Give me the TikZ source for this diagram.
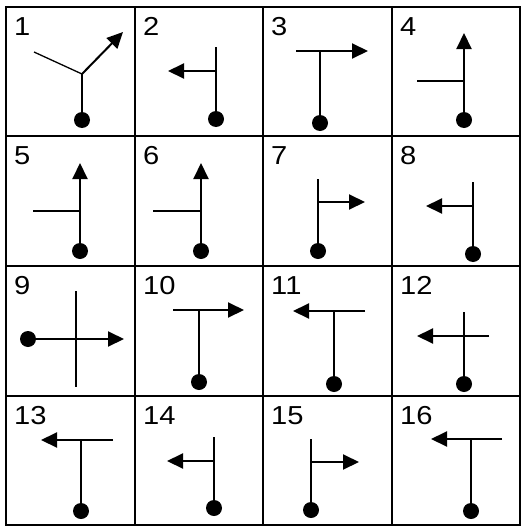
\documentclass[tikz,border=0pt]{standalone}
\usepackage{fontspec}
\setmainfont{Liberation Sans}
\usetikzlibrary{arrows.meta}
\tikzset{
  grid/.style={line width=2pt},
  stem/.style={line width=2pt},
  thin/.style={line width=1.3pt},
  arr/.style={line width=2pt,-{Triangle[length=16pt,width=15pt]}},
  dotm/.style={fill=black},
  lbl/.style={anchor=north west,inner sep=0pt,xscale=1.12,font=\fontsize{26}{26}\selectfont}
}
\begin{document}
\begin{tikzpicture}[x=1pt,y=-1pt]
\useasboundingbox (0,0) rectangle (525,530);
% grid
\draw[grid] (6,7) rectangle (520,525);
\foreach \x in {135,263,392} \draw[grid] (\x,7) -- (\x,525);
\foreach \y in {136,266,396} \draw[grid] (6,\y) -- (520,\y);
% labels
\node[lbl] (l1) at (14,17) {1};
\node[lbl] (l2) at (143,17) {2};
\node[lbl] (l3) at (271,17) {3};
\node[lbl] (l4) at (400,17) {4};
\node[lbl] (l5) at (14,146) {5};
\node[lbl] (l6) at (143,146) {6};
\node[lbl] (l7) at (271,146) {7};
\node[lbl] (l8) at (400,146) {8};
\node[lbl] (l9) at (14,276) {9};
\node[lbl] (l10) at (143,276) {10};
\node[lbl] (l11) at (271,276) {11};
\node[lbl] (l12) at (400,276) {12};
\node[lbl] (l13) at (14,406) {13};
\node[lbl] (l14) at (143,406) {14};
\node[lbl] (l15) at (271,406) {15};
\node[lbl] (l16) at (400,406) {16};
% cell 1
\coordinate (j1) at (82,74); \coordinate (d1) at (82,120);
\coordinate (b1) at (34,52); \coordinate (t1) at (123,32);
\draw[stem] (d1) -- (j1); \draw[thin] (b1) -- (j1); \draw[arr] (j1) -- (t1);
\fill[dotm] (d1) circle (8);
% cell 2
\coordinate (a2) at (216,47); \coordinate (d2) at (216,119);
\coordinate (j2) at (216,71); \coordinate (t2) at (168,71);
\draw[stem] (a2) -- (d2); \draw[arr] (j2) -- (t2);
\fill[dotm] (d2) circle (8);
% cell 3
\coordinate (s3) at (296,51); \coordinate (t3) at (368,51);
\coordinate (j3) at (320,51); \coordinate (d3) at (320,123);
\draw[arr] (s3) -- (t3); \draw[stem] (j3) -- (d3);
\fill[dotm] (d3) circle (8);
% cell 4
\coordinate (d4) at (464,120); \coordinate (t4) at (464,33);
\coordinate (j4) at (464,81); \coordinate (b4) at (417,81);
\draw[arr] (d4) -- (t4); \draw[thin] (b4) -- (j4);
\fill[dotm] (d4) circle (8);
% cell 5
\coordinate (d5) at (80,251); \coordinate (t5) at (80,163);
\coordinate (j5) at (80,211); \coordinate (b5) at (33,211);
\draw[arr] (d5) -- (t5); \draw[thin] (b5) -- (j5);
\fill[dotm] (d5) circle (8);
% cell 6
\coordinate (d6) at (201,251); \coordinate (t6) at (201,163);
\coordinate (j6) at (201,211); \coordinate (b6) at (153,211);
\draw[arr] (d6) -- (t6); \draw[thin] (b6) -- (j6);
\fill[dotm] (d6) circle (8);
% cell 7
\coordinate (a7) at (318,179); \coordinate (d7) at (318,251);
\coordinate (j7) at (318,202); \coordinate (t7) at (365,202);
\draw[stem] (a7) -- (d7); \draw[arr] (j7) -- (t7);
\fill[dotm] (d7) circle (8);
% cell 8
\coordinate (a8) at (473,182); \coordinate (d8) at (473,254);
\coordinate (j8) at (473,206); \coordinate (t8) at (426,206);
\draw[stem] (a8) -- (d8); \draw[arr] (j8) -- (t8);
\fill[dotm] (d8) circle (8);
% cell 9
\coordinate (d9) at (28,339); \coordinate (t9) at (124,339);
\coordinate (a9) at (76,291); \coordinate (b9) at (76,387);
\draw[thin] (a9) -- (b9); \draw[arr] (d9) -- (t9);
\fill[dotm] (d9) circle (8);
% cell 10
\coordinate (s10) at (173,310); \coordinate (t10) at (244,310);
\coordinate (j10) at (199,310); \coordinate (d10) at (199,382);
\draw[arr] (s10) -- (t10); \draw[stem] (j10) -- (d10);
\fill[dotm] (d10) circle (8);
% cell 11
\coordinate (s11) at (365,311); \coordinate (t11) at (293,311);
\coordinate (j11) at (334,311); \coordinate (d11) at (334,384);
\draw[arr] (s11) -- (t11); \draw[stem] (j11) -- (d11);
\fill[dotm] (d11) circle (8);
% cell 12
\coordinate (a12) at (464,312); \coordinate (d12) at (464,384);
\coordinate (s12) at (489,336); \coordinate (t12) at (417,336);
\draw[stem] (a12) -- (d12); \draw[arr] (s12) -- (t12);
\fill[dotm] (d12) circle (8);
% cell 13
\coordinate (s13) at (113,440); \coordinate (t13) at (41,440);
\coordinate (j13) at (81,440); \coordinate (d13) at (81,511);
\draw[arr] (s13) -- (t13); \draw[stem] (j13) -- (d13);
\fill[dotm] (d13) circle (8);
% cell 14
\coordinate (a14) at (214,437); \coordinate (d14) at (214,508);
\coordinate (j14) at (214,461); \coordinate (t14) at (167,461);
\draw[stem] (a14) -- (d14); \draw[arr] (j14) -- (t14);
\fill[dotm] (d14) circle (8);
% cell 15
\coordinate (a15) at (311,439); \coordinate (d15) at (311,510);
\coordinate (j15) at (311,462); \coordinate (t15) at (359,462);
\draw[stem] (a15) -- (d15); \draw[arr] (j15) -- (t15);
\fill[dotm] (d15) circle (8);
% cell 16
\coordinate (s16) at (502,439); \coordinate (t16) at (431,439);
\coordinate (j16) at (471,439); \coordinate (d16) at (471,511);
\draw[arr] (s16) -- (t16); \draw[stem] (j16) -- (d16);
\fill[dotm] (d16) circle (8);
\end{tikzpicture}
\end{document}
